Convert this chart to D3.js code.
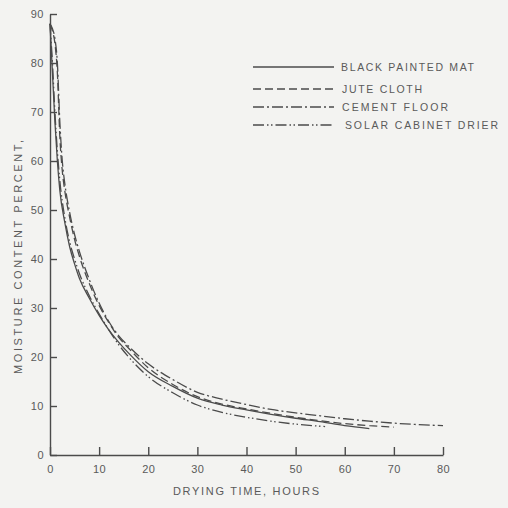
<!DOCTYPE html>
<html>
<head>
<meta charset="utf-8">
<script src="https://cdn.jsdelivr.net/npm/d3@7"></script>
<style>
  body { margin: 0; background: #f3f3f1; }
  #chart { width: 508px; height: 508px; }
  text { font-family: "Liberation Sans", Arial, sans-serif; fill: #5a5a5a; }
</style>
</head>
<body>
<div id="chart"></div>
<script>
// Datos (tiempo en horas, humedad en %)
const matT    = [0, 0.5, 1, 1.5, 2, 3, 4, 5, 6, 8, 10, 12, 14, 16, 20, 25, 30, 35, 40, 45, 50, 55, 60, 65];
const matM    = [88, 78, 68, 60, 54, 47.5, 42.5, 39, 36, 32, 28.5, 25.5, 23, 20.8, 17, 14, 11.6, 10.2, 9.2, 8.3, 7.5, 6.8, 6.0, 5.4];

const juteT   = [0, 0.5, 1, 1.5, 2, 2.5, 3, 4, 5, 6, 8, 10, 12, 14, 16, 20, 25, 30, 35, 40, 45, 50, 55, 60, 65, 70];
const juteM   = [88, 86.5, 84, 78, 65, 58, 54, 48.5, 44, 40.5, 35, 30.5, 27, 24, 21.8, 17.8, 14.4, 11.9, 10.4, 9.4, 8.5, 7.7, 7.0, 6.4, 6.0, 5.7];

const cementT = [0, 0.5, 1, 1.5, 2, 2.5, 3, 4, 5, 6, 8, 10, 12, 14, 16, 20, 25, 30, 35, 40, 45, 50, 55, 60, 65, 70, 75, 80];
const cementM = [88, 87, 85, 80, 68, 60, 55.5, 49.5, 45, 41.5, 35.8, 31, 27.2, 24.3, 22.2, 18.6, 15.4, 12.8, 11.4, 10.3, 9.3, 8.6, 8.0, 7.4, 6.9, 6.5, 6.2, 6.0];

const solarT  = [0, 0.5, 1, 1.5, 2, 3, 4, 5, 6, 8, 10, 12, 14, 16, 20, 25, 30, 35, 40, 45, 50, 56];
const solarM  = [88, 80, 70, 62, 56, 48.5, 43.5, 40, 37, 32.5, 28.8, 25.5, 22.5, 20, 16, 12.7, 10.2, 8.7, 7.7, 6.9, 6.3, 5.8];

const series = ['BLACK PAINTED MAT', 'JUTE CLOTH', 'CEMENT FLOOR', 'SOLAR CABINET DRIER'];
const xTicks = [0, 10, 20, 30, 40, 50, 60, 70, 80];
const yTicks = [0, 10, 20, 30, 40, 50, 60, 70, 80, 90];

const INK = '#4b4b4b';

let margin = {top: 14, right: 65, bottom: 53, left: 50},
    width = 508 - margin.left - margin.right,
    height = 508 - margin.top - margin.bottom;

let svg = d3.select('#chart')
    .append('svg')
        .attr('width', 508)
        .attr('height', 508)
    .append('g')
        .attr('transform', 'translate(' + margin.left + ',' + margin.top + ')');

let x = d3.scaleLinear().domain([0, 80]).range([0, width]);
let y = d3.scaleLinear().domain([0, 90]).range([height, 0]);

//Ejes con marcas hacia dentro
let xAxis = svg.append('g')
    .attr('transform', 'translate(0,' + height + ')')
    .call(d3.axisBottom(x).tickValues(xTicks).tickSizeInner(-8).tickSizeOuter(0).tickPadding(10));

let yAxis = svg.append('g')
    .call(d3.axisLeft(y).tickValues(yTicks).tickSizeInner(-7).tickSizeOuter(0).tickPadding(6));

[xAxis, yAxis].forEach(function(a) {
    a.selectAll('path, line').attr('stroke', INK).attr('stroke-width', 1.4);
    a.selectAll('text').style('font-size', '11px').attr('fill', '#5a5a5a').style('letter-spacing', '0.5px');
});

//Curvas
let dashes = ['none', '8,4', '11,3,2,3', '11,3,1.5,2.5,1.5,3'];
let tabla = [
    matT.map(function(t, i) { return [t, matM[i]]; }),
    juteT.map(function(t, i) { return [t, juteM[i]]; }),
    cementT.map(function(t, i) { return [t, cementM[i]]; }),
    solarT.map(function(t, i) { return [t, solarM[i]]; })
];

let line = d3.line()
    .x(function(d) { return x(d[0]); })
    .y(function(d) { return y(d[1]); })
    .curve(d3.curveMonotoneX);

svg.append('g')
    .selectAll('path')
    .data(tabla)
    .enter()
    .append('path')
    .attr('d', line)
    .attr('fill', 'none')
    .attr('stroke', INK)
    .attr('stroke-width', 1.3)
    .attr('stroke-dasharray', function(d, i) { return dashes[i]; });

//Leyenda
let legY = [67, 89, 107, 125];
let legTextX = [341, 342, 342, 345];
let legTextW = [133, 80, 106, 153];
let legend = d3.select('#chart svg').append('g');

series.forEach(function(s, i) {
    legend.append('line')
        .attr('x1', 253).attr('x2', 334)
        .attr('y1', legY[i]).attr('y2', legY[i])
        .attr('stroke', INK)
        .attr('stroke-width', 1.3)
        .attr('stroke-dasharray', dashes[i]);
    legend.append('text')
        .attr('x', legTextX[i])
        .attr('y', legY[i] + 4)
        .attr('textLength', legTextW[i])
        .attr('lengthAdjust', 'spacing')
        .style('font-size', '10.5px')
        .text(s);
});

//Titulos de ejes
d3.select('#chart svg').append('text')
    .attr('x', 173)
    .attr('y', 495)
    .attr('textLength', 146)
    .attr('lengthAdjust', 'spacing')
    .style('font-size', '11px')
    .text('DRYING TIME, HOURS');

d3.select('#chart svg').append('text')
    .attr('transform', 'translate(22,374) rotate(-90)')
    .attr('textLength', 234)
    .attr('lengthAdjust', 'spacing')
    .style('font-size', '11px')
    .text('MOISTURE CONTENT PERCENT,');
</script>
</body>
</html>
